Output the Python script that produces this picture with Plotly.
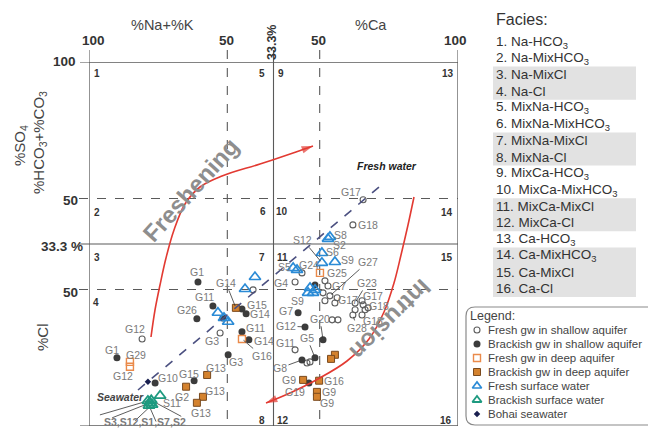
import plotly.graph_objects as go

# ---------------- DATA (diagram coordinates: x 0..133.4 across the cation field,
# ---------------- y 0..133.4 downward across the anion field)
fs_names = ["G17", "G18", "G12", "G3", "", "G24", "G4", "", "G7", "", "G27", "G17", "", "",
            "G23", "", "G17", "", "G18", "", "G28", "G18", "", "", "G11", "", ""]
fs_x = [99.1, 95.4, 19.2, 47.4, 59.3, 77.0, 74.5, 85.3, 86.4, 84.6, 87.1, 89.7, 85.3, 88.9,
        96.2, 98.7, 99.1, 96.2, 100.9, 99.8, 95.4, 98.7, 87.9, 90.0, 74.5, 78.8, 79.9]
fs_y = [50.5, 59.7, 101.5, 99.3, 83.5, 77.3, 80.6, 80.2, 82.1, 84.6, 85.7, 86.4, 87.5, 88.3,
        88.3, 87.5, 89.0, 90.8, 90.1, 90.8, 92.7, 92.7, 94.5, 94.5, 105.5, 110.3, 109.9]

bs_names = ["G1", "G11", "G26", "", "G15", "G14", "G11", "G14", "G3", "G1", "G10", "G15", "",
            "G7", "G12", "G20", "G8", "G5", "G19"]
bs_x = [39.4, 44.8, 39.0, 48.4, 55.3, 56.8, 55.3, 57.8, 50.3, 10.1, 23.9, 38.0, 81.7,
        75.6, 78.1, 84.6, 77.0, 81.7, 79.5]
bs_y = [80.6, 89.4, 94.1, 93.8, 90.5, 92.3, 98.9, 101.8, 107.3, 108.4, 117.6, 116.8, 81.7,
        91.9, 97.1, 101.8, 109.2, 108.4, 117.6]

fd_names = ["G25", "G16", "G29", "G12"]
fd_x = [83.5, 55.3, 14.8, 14.8]
fd_y = [77.3, 101.5, 109.9, 111.7]

bd_names = ["G14", "G2", "G13", "G13", "G13", "G9", "G16", "G9", "G9", "", ""]
bd_x = [53.1, 35.1, 42.7, 41.2, 39.0, 77.4, 83.2, 82.4, 82.4, 88.9, 87.5]
bd_y = [90.1, 119.0, 114.7, 122.7, 124.9, 116.5, 116.8, 120.9, 122.7, 107.3, 108.8]

fsw_names = ["", "", "", "", "", "S8", "S2", "S6", "S9", "S12", "S5", "", "", "", "S9", ""]
fsw_x = [60.0, 56.4, 46.6, 48.8, 50.3, 87.1, 86.4, 84.2, 88.9, 84.2, 73.8, 75.2, 79.9, 81.7, 79.2, 81.0]
fsw_y = [78.8, 83.2, 91.9, 93.8, 95.2, 64.1, 64.8, 70.0, 73.3, 73.6, 75.5, 76.2, 82.8, 83.5, 84.6, 84.6]

bsw_names = ["S11", "S3", "S12", "S1", "S7", "S2"]
bsw_x = [25.7, 21.3, 22.1, 22.8, 21.7, 22.5]
bsw_y = [122.3, 124.2, 124.9, 125.6, 125.9, 124.0]

sea_names = ["Seawater"]
sea_x = [21.3]
sea_y = [117.2]

facies = ["Na-HCO<sub>3</sub>", "Na-MixHCO<sub>3</sub>", "Na-MixCl", "Na-Cl",
          "MixNa-HCO<sub>3</sub>", "MixNa-MixHCO<sub>3</sub>", "MixNa-MixCl", "MixNa-Cl",
          "MixCa-HCO<sub>3</sub>", "MixCa-MixHCO<sub>3</sub>", "MixCa-MixCl", "MixCa-Cl",
          "Ca-HCO<sub>3</sub>", "Ca-MixHCO<sub>3</sub>", "Ca-MixCl", "Ca-Cl"]
legend_names = ["Fresh gw in shallow aquifer", "Brackish gw in shallow aquifer",
                "Fresh gw in deep aquifer", "Brackish gw in deep aquifer",
                "Fresh surface water", "Brackish surface water", "Bohai seawater"]

# ---------------- LAYOUT / STYLE ----------------
W, H = 648, 429
FONT = "Liberation Sans, Arial, sans-serif"
LBL = "#7a7a7a"
RED = "#e23a32"
SX, SY = 369 / 133.4, 364 / 133.4   # pixels per diagram unit

styles = {
    "fs": dict(symbol="circle-open", size=6, color="#5e5e5e", line=dict(width=1.1)),
    "bs": dict(symbol="circle", size=7, color="#3c3c3c", line=dict(width=0)),
    "fd": dict(symbol="square-open", size=7, color="#ea8a4a", line=dict(width=1.4)),
    "bd": dict(symbol="square", size=7, color="#d4822e", line=dict(width=1, color="#7a4a1e")),
    "fsw": dict(symbol="triangle-up-open", size=10, color="#2b8bd6", line=dict(width=1.7)),
    "bsw": dict(symbol="triangle-up-open", size=10, color="#1e9a80", line=dict(width=1.8)),
    "sea": dict(symbol="diamond", size=5, color="#1a2050", line=dict(width=0)),
}

# label offsets (pixels): index -> (dx, dy, leader line)
offs = {
    "fs": {0: (-12, -8, 0), 1: (15, 0, 0), 2: (-7, -10, 0), 3: (-8, 8, 0), 5: (7, -8, 0),
           6: (-14, 1, 0), 8: (11, 0, 0), 10: (38, -34, 1), 11: (11, 2, 0), 14: (12, -20, 1),
           16: (10, -9, 0), 18: (11, -2, 0), 20: (4, 13, 1), 21: (11, 6, 0), 24: (-10, -7, 0)},
    "bs": {0: (-1, -10, 0), 1: (-8, -9, 0), 2: (-10, -9, 0), 4: (15, -4, 0), 5: (14, 0, 0),
           6: (14, -4, 0), 7: (15, 1, 0), 8: (8, 7, 0), 9: (-5, -8, 0), 10: (13, -5, 0),
           11: (-5, -7, 0), 13: (-12, -2, 0), 14: (-19, -1, 1), 15: (-3, -21, 1),
           16: (-22, 8, 1), 17: (-8, -20, 1), 18: (-14, 9, 0)},
    "fd": {0: (17, 0, 0), 1: (20, 17, 1), 2: (6, -7, 0), 3: (-7, 9, 0)},
    "bd": {0: (-10, -25, 1), 1: (-4, 10, 0), 2: (9, -7, 0), 3: (12, -6, 0), 4: (4, 10, 0),
           5: (-14, 0, 0), 6: (15, 0, 0), 7: (12, 0, 0), 8: (10, 6, 0)},
    "fsw": {5: (11, -2, 0), 6: (12, 6, 0), 7: (11, -1, 0), 8: (13, -2, 0), 9: (-19, -23, 1),
            10: (-9, -1, 0), 14: (-11, 8, 0)},
    "bsw": {0: (12, 7, 0)},
}
fan = {1: (-48, 14), 2: (-38, 15), 3: (-17, 16), 4: (7, 16), 5: (30, 16)}

groups = [("fs", fs_names, fs_x, fs_y), ("bs", bs_names, bs_x, bs_y),
          ("fd", fd_names, fd_x, fd_y), ("bd", bd_names, bd_x, bd_y),
          ("fsw", fsw_names, fsw_x, fsw_y), ("bsw", bsw_names, bsw_x, bsw_y),
          ("sea", sea_names, sea_x, sea_y)]

fig = go.Figure()
ann = []
shapes = []


def txt(s, px, py, size=10.5, color=LBL, bold=False, italic=False, angle=0, xanchor="center"):
    if bold:
        s = "<b>" + s + "</b>"
    if italic:
        s = "<i>" + s + "</i>"
    ann.append(dict(text=s, x=px, y=py, xref="x2", yref="y2", showarrow=False,
                    font=dict(size=size, color=color, family=FONT), textangle=angle,
                    xanchor=xanchor, yanchor="middle"))


# ---- frame, grid ----
GRID = "#5a5a5a"
shapes.append(dict(type="rect", xref="x", yref="y", x0=0, x1=133.4, y0=0, y1=133.4,
                   line=dict(color=GRID, width=1.3), layer="below"))
for xv, dash in [(50, "dash"), (66.7, "solid"), (83.4, "dash")]:
    shapes.append(dict(type="line", xref="x", yref="y2", x0=xv, x1=xv, y0=50, y1=426,
                       line=dict(color=GRID, width=1.1, dash=dash), layer="below"))
for yv, dash in [(50, "dash"), (66.7, "solid"), (83.4, "dash")]:
    shapes.append(dict(type="line", xref="x2", yref="y", x0=79, x1=458, y0=yv, y1=yv,
                       line=dict(color=GRID, width=1.1, dash=dash), layer="below"))
for xv in [0, 133.4]:
    shapes.append(dict(type="line", xref="x", yref="y2", x0=xv, x1=xv, y0=50, y1=62,
                       line=dict(color=GRID, width=1.1)))
for yv in [0, 133.4]:
    shapes.append(dict(type="line", xref="x2", yref="y", x0=80, x1=89, y0=yv, y1=yv,
                       line=dict(color=GRID, width=1.1)))

# mixing line
shapes.append(dict(type="line", xref="x2", yref="y2", x0=138, y0=390, x1=385, y1=182,
                   line=dict(color="#4b5080", width=1.6, dash="dash"), layer="below"))

# ---- facies shaded bands ----
fy = [42 + 16.45 * i for i in range(16)]
for a, b in [(2, 3), (6, 7), (10, 11), (13, 15)]:
    shapes.append(dict(type="rect", xref="x2", yref="y2", x0=493, x1=636,
                       y0=fy[a] - 8.3, y1=fy[b] + 8.3, fillcolor="#e2e2e2",
                       line=dict(width=0), layer="below"))

# ---- legend box ----
shapes.append(dict(type="path", xref="x2", yref="y2",
                   path="M 475,307 L 655,307 L 655,425 L 475,425 Q 466,425 466,416 "
                        "L 466,316 Q 466,307 475,307 Z",
                   line=dict(color="#8a8a8a", width=1.2), fillcolor="rgba(0,0,0,0)"))

# ---- leader fan for the surface-water cluster ----
fan_x, fan_y = [], []
for i, (dx, dy) in fan.items():
    fan_x += [bsw_x[i], bsw_x[i] + dx / SX, None]
    fan_y += [bsw_y[i], bsw_y[i] + dy / SY, None]
fig.add_trace(go.Scatter(x=fan_x, y=fan_y, mode="lines", line=dict(color="#333", width=0.8),
                         hoverinfo="skip", showlegend=False))

# ---- data traces ----
for key, names, xs, ys in groups:
    st = styles[key]
    fig.add_trace(go.Scatter(x=xs, y=ys, mode="markers", text=names, xaxis="x", yaxis="y",
                             marker=dict(symbol=st["symbol"], size=st["size"], color=st["color"],
                                         line=st["line"]),
                             hoverinfo="text", showlegend=False, cliponaxis=False))

# ---- point labels ----
for key, names, xs, ys in groups:
    for i, (dx, dy, line) in offs.get(key, {}).items():
        f = dict(size=10.5, color=LBL, family=FONT)
        if line:
            ann.append(dict(text=names[i], x=xs[i], y=ys[i], xref="x", yref="y", showarrow=True,
                            ax=dx, ay=dy, arrowhead=0, arrowwidth=0.8, arrowcolor="#333",
                            standoff=2, font=f))
        else:
            ann.append(dict(text=names[i], x=xs[i], y=ys[i], xref="x", yref="y", showarrow=False,
                            xshift=dx, yshift=-dy, font=f))
ann.append(dict(text="<b>" + ",".join(bsw_names[1:]) + "</b>", x=bsw_x[2], y=bsw_y[2],
                xref="x", yref="y", showarrow=False, xshift=-5, yshift=-19,
                font=dict(size=10.5, color=LBL, family=FONT)))
ann.append(dict(text="<b><i>" + sea_names[0] + "</i></b>", x=sea_x[0], y=sea_y[0], xref="x",
                yref="y", showarrow=False, xshift=-27, yshift=-15,
                font=dict(size=10.5, color="#444", family=FONT)))

# ---- arrows (process paths) ----
fresh_px = [(151, 337), (155, 310), (160, 285), (166, 258), (174, 230), (185, 204),
            (200, 187), (222, 176), (260, 164), (296, 152), (313, 146)]
intr_px = [(414, 197), (408, 225), (401, 255), (394, 283), (384, 312), (369, 339),
           (347, 361), (318, 379), (290, 393), (266, 403)]
for pts in (fresh_px, intr_px):
    n = len(pts)
    fig.add_trace(go.Scatter(x=[p[0] for p in pts], y=[p[1] for p in pts], mode="lines+markers",
                             line=dict(color=RED, width=1.6, shape="spline"),
                             marker=dict(symbol="arrow", angleref="previous", color=RED,
                                         size=[0] * (n - 1) + [12], line=dict(width=0)),
                             xaxis="x2", yaxis="y2", hoverinfo="skip", showlegend=False))

txt("Freshening", 190, 190, size=24, color="#8e8e8e", bold=True, angle=-48)
txt("Intrusion", 391, 320, size=24, color="#8e8e8e", bold=True, angle=135)
txt("Fresh water", 387, 166, size=10.5, color="#222", bold=True, italic=True)

# ---- axis texts ----
txt("%Na+%K", 162, 25, size=14.5, color="#444")
txt("%Ca", 371, 25, size=14.5, color="#444")
for s, px in [("100", 93), ("50", 226), ("50", 318), ("100", 455)]:
    txt(s, px, 40, size=13.5, color="#333", bold=True)
txt("33.3%", 272, 43, size=12.5, color="#333", bold=True, angle=-90)
for s, py, px in [("100", 61, 64), ("50", 200, 70), ("33.3 %", 246, 62), ("50", 292, 70),
                  ("100", 431, 64)]:
    txt(s, px, py, size=13.5, color="#333", bold=True)
txt("%SO<sub>4</sub>", 20, 146, size=15, color="#444", angle=-90)
txt("%HCO<sub>3</sub>+%CO<sub>3</sub>", 39, 143, size=15, color="#444", angle=-90)
txt("%Cl", 42, 337, size=15, color="#444", angle=-90)

# region numbers
for s, px, py in [("1", 97, 73), ("5", 262, 73), ("9", 281, 73), ("13", 448, 73),
                  ("2", 97, 212), ("6", 263, 211), ("10", 282, 211), ("14", 447, 212),
                  ("3", 97, 257), ("7", 262, 257), ("11", 282, 257), ("15", 447, 257),
                  ("4", 96, 302), ("8", 262, 420), ("12", 283, 420), ("16", 446, 420)]:
    txt(s, px, py, size=10, color="#333", bold=True)

# ---- facies list ----
txt("Facies:", 494, 19, size=16, color="#333", xanchor="left")
for i, f in enumerate(facies):
    txt(f"{i + 1}. {f}", 494, fy[i], size=13.5, color="#333", xanchor="left")

# ---- legend ----
txt("Legend:", 468, 316, size=12.5, color="#444", xanchor="left")
leg_keys = ["fs", "bs", "fd", "bd", "fsw", "bsw", "sea"]
for i, (k, name) in enumerate(zip(leg_keys, legend_names)):
    st = styles[k]
    yy = 330 + 14 * i
    fig.add_trace(go.Scatter(x=[477], y=[yy], mode="markers", xaxis="x2", yaxis="y2",
                             marker=dict(symbol=st["symbol"], size=min(st["size"], 8),
                                         color=st["color"], line=st["line"]),
                             hoverinfo="skip", showlegend=False))
    txt(name, 486, yy, size=11.5, color="#444", xanchor="left")

fig.update_layout(
    width=W, height=H, margin=dict(l=0, r=0, t=0, b=0),
    paper_bgcolor="white", plot_bgcolor="rgba(0,0,0,0)", showlegend=False,
    xaxis=dict(domain=[89 / W, 458 / W], range=[0, 133.4], visible=False),
    yaxis=dict(domain=[3 / H, 367 / H], range=[133.4, 0], visible=False),
    xaxis2=dict(domain=[0, 1], range=[0, W], visible=False, anchor="y2"),
    yaxis2=dict(domain=[0, 1], range=[H, 0], visible=False, anchor="x2"),
    annotations=ann, shapes=shapes,
    font=dict(family=FONT),
)
fig.write_html("out.html", config={"displayModeBar": False},
               post_script="document.body.style.margin='0';")
